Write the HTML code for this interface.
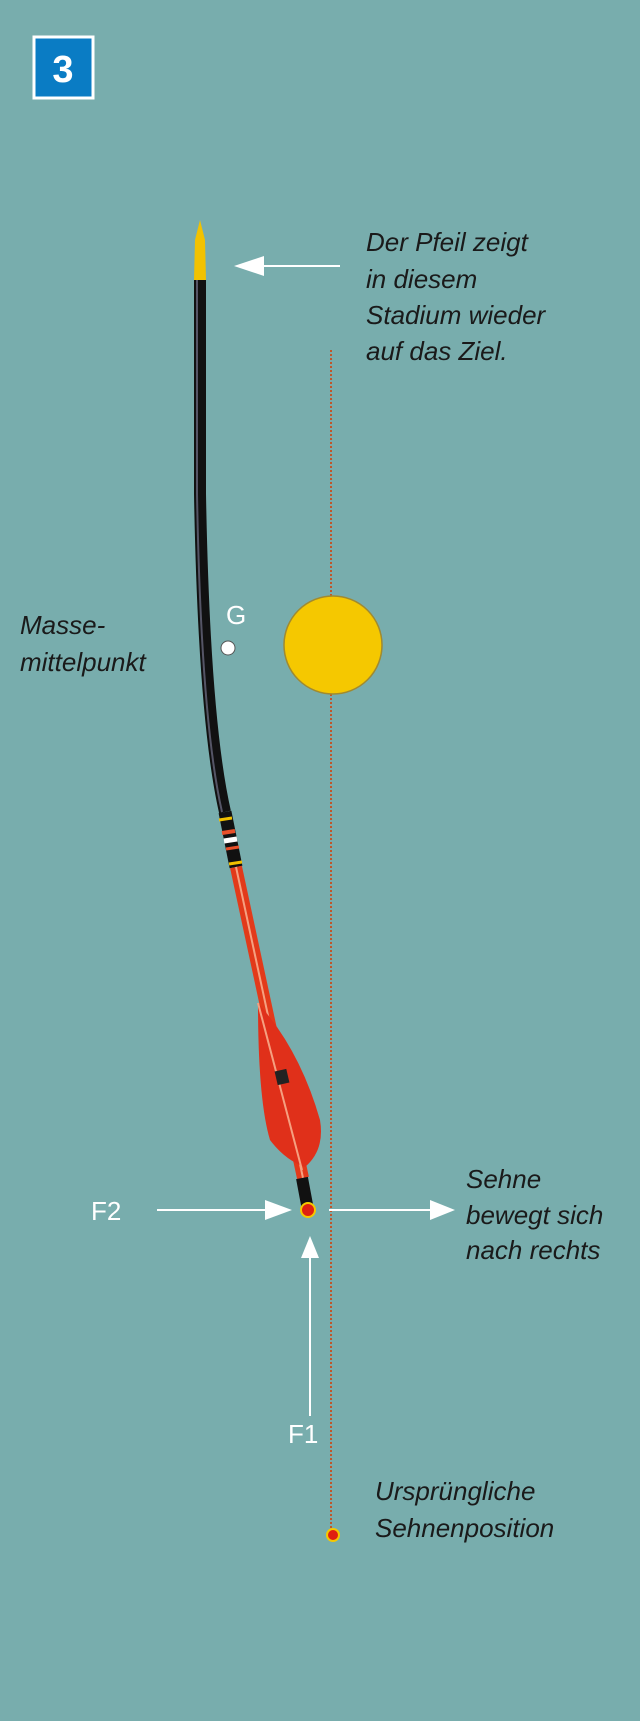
<!DOCTYPE html>
<html><head><style>
body{margin:0;background:#78adad;}
svg{display:block}
text{font-family:"Liberation Sans",sans-serif;}
.t{font-style:italic;fill:#1a1a1a;font-size:26px}
</style></head><body>
<svg width="640" height="1721" viewBox="0 0 640 1721" xmlns="http://www.w3.org/2000/svg">
<rect width="640" height="1721" fill="#78adad"/>
<rect x="34" y="37" width="59" height="61" fill="#0a7cc4" stroke="#fff" stroke-width="3"/>
<text x="63" y="82" text-anchor="middle" font-size="38" font-weight="bold" fill="#fff">3</text>
<!-- dotted line -->
<line x1="331" y1="350" x2="331" y2="1535" stroke="#c0552a" stroke-width="2" stroke-dasharray="2,2"/>
<!-- yellow circle -->
<circle cx="333" cy="645" r="49" fill="#f5c800" stroke="#a08a30" stroke-width="1.5"/>
<!-- G -->
<circle cx="228" cy="648" r="7" fill="#fff" stroke="#555" stroke-width="1"/>
<text x="226" y="624" font-size="26" fill="#fff">G</text>
<text class="t" x="20" y="634">Masse-</text>
<text class="t" x="20" y="671">mittelpunkt</text>
<!-- arrow shaft black -->
<path d="M200 280 L200 494 Q204 720 225 812" fill="none" stroke="#111" stroke-width="12"/>
<path d="M197 280 L197 494 Q201 720 222 812" fill="none" stroke="#556" stroke-width="2"/>
<!-- tip -->
<path d="M194 280 L195 240 L200 220 L205 240 L206 280 Z" fill="#f2c200"/>
<!-- bands -->
<path d="M225 812 L236 867" stroke="#111" stroke-width="13"/>
<line x1="219" y1="820" x2="232" y2="818" stroke="#f0c000" stroke-width="3"/>
<line x1="222" y1="833" x2="235" y2="831" stroke="#e8502a" stroke-width="4"/>
<line x1="224" y1="841" x2="237" y2="839" stroke="#fff" stroke-width="5"/>
<line x1="226" y1="849" x2="239" y2="847" stroke="#e8502a" stroke-width="3"/>
<line x1="229" y1="864" x2="242" y2="862" stroke="#f0c000" stroke-width="3"/>
<!-- red shaft -->
<path d="M236 867 L303 1178" stroke="#e23a1a" stroke-width="12"/>
<path d="M236 867 L303 1178" stroke="#f5a080" stroke-width="2"/>
<!-- fletching -->
<path d="M258 1003 Q300 1050 320 1120 Q325 1150 305 1167 Q285 1160 270 1140 Q258 1100 258 1003 Z" fill="#e0301a"/>
<line x1="258" y1="1003" x2="302" y2="1170" stroke="#f5a080" stroke-width="2"/>
<rect x="276" y="1070" width="12" height="14" fill="#222" transform="rotate(-13 282 1077)"/>
<!-- nock -->
<path d="M302 1178 L308 1210" stroke="#111" stroke-width="12"/>
<circle cx="308" cy="1210" r="7" fill="#e02010" stroke="#f5c800" stroke-width="2"/>
<!-- arrows -->
<line x1="262" y1="266" x2="340" y2="266" stroke="#fff" stroke-width="2"/>
<path d="M264 256 L264 276 L234 266 Z" fill="#fff"/>
<line x1="157" y1="1210" x2="265" y2="1210" stroke="#fff" stroke-width="2"/>
<path d="M265 1200 L265 1220 L292 1210 Z" fill="#fff"/>
<line x1="329" y1="1210" x2="430" y2="1210" stroke="#fff" stroke-width="2"/>
<path d="M430 1200 L430 1220 L455 1210 Z" fill="#fff"/>
<line x1="310" y1="1416" x2="310" y2="1255" stroke="#fff" stroke-width="2"/>
<path d="M301 1258 L319 1258 L310 1236 Z" fill="#fff"/>
<text x="91" y="1220" font-size="26" fill="#fff">F2</text>
<text x="288" y="1443" font-size="26" fill="#fff">F1</text>
<circle cx="333" cy="1535" r="6" fill="#e02010" stroke="#f5c800" stroke-width="2"/>
<text class="t" x="366" y="251">Der Pfeil zeigt</text>
<text class="t" x="366" y="288">in diesem</text>
<text class="t" x="366" y="324">Stadium wieder</text>
<text class="t" x="366" y="360">auf das Ziel.</text>
<text class="t" x="466" y="1188">Sehne</text>
<text class="t" x="466" y="1224">bewegt sich</text>
<text class="t" x="466" y="1259">nach rechts</text>
<text class="t" x="375" y="1500">Ursprüngliche</text>
<text class="t" x="375" y="1537">Sehnenposition</text>
</svg>
</body></html>
